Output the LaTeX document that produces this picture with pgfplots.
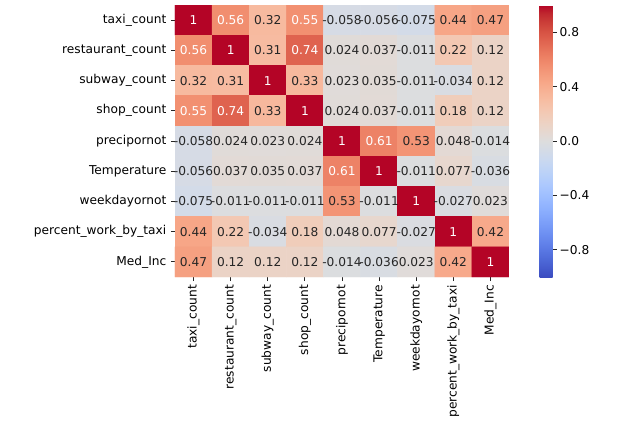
\documentclass[border=0pt]{standalone}
\usepackage{fontspec}
\setmainfont{DejaVu Sans}
\usepackage{pgfplots}
\usepackage{pgfplotstable}
\pgfplotsset{compat=1.18}
\definecolor{ann}{gray}{0.15}
\pgfplotstableread{
x y c
0 0 1
1 0 0.56
2 0 0.32
3 0 0.55
4 0 -0.058
5 0 -0.056
6 0 -0.075
7 0 0.44
8 0 0.47
0 1 0.56
1 1 1
2 1 0.31
3 1 0.74
4 1 0.024
5 1 0.037
6 1 -0.011
7 1 0.22
8 1 0.12
0 2 0.32
1 2 0.31
2 2 1
3 2 0.33
4 2 0.023
5 2 0.035
6 2 -0.011
7 2 -0.034
8 2 0.12
0 3 0.55
1 3 0.74
2 3 0.33
3 3 1
4 3 0.024
5 3 0.037
6 3 -0.011
7 3 0.18
8 3 0.12
0 4 -0.058
1 4 0.024
2 4 0.023
3 4 0.024
4 4 1
5 4 0.61
6 4 0.53
7 4 0.048
8 4 -0.014
0 5 -0.056
1 5 0.037
2 5 0.035
3 5 0.037
4 5 0.61
5 5 1
6 5 -0.011
7 5 0.077
8 5 -0.036
0 6 -0.075
1 6 -0.011
2 6 -0.011
3 6 -0.011
4 6 0.53
5 6 -0.011
6 6 1
7 6 -0.027
8 6 0.023
0 7 0.44
1 7 0.22
2 7 -0.034
3 7 0.18
4 7 0.048
5 7 0.077
6 7 -0.027
7 7 1
8 7 0.42
0 8 0.47
1 8 0.12
2 8 0.12
3 8 0.12
4 8 -0.014
5 8 -0.036
6 8 0.023
7 8 0.42
8 8 1
}\corr
\begin{document}
\begin{tikzpicture}
\path (-175pt,-149pt) rectangle (466pt,277pt);
\begin{axis}[
  at={(0,0)}, anchor=south west,
  scale only axis, width=334pt, height=272pt,
  xmin=-0.5, xmax=8.5, ymin=-0.5, ymax=8.5, y dir=reverse,
  axis line style={draw=none},
  xtick={0,...,8}, ytick={0,...,8},
  xticklabels={taxi\_count,restaurant\_count,subway\_count,shop\_count,precipornot,Temperature,weekdayornot,percent\_work\_by\_taxi,Med\_Inc},
  yticklabels={taxi\_count,restaurant\_count,subway\_count,shop\_count,precipornot,Temperature,weekdayornot,percent\_work\_by\_taxi,Med\_Inc},
  tick pos=left, tick align=outside, major tick length=4pt,
  tick style={color=black!85, line width=0.8pt},
  xticklabel style={rotate=90, anchor=east, font=\fontsize{12.2}{14}\selectfont, inner sep=4pt},
  yticklabel style={font=\fontsize{12.2}{14}\selectfont, inner sep=4.5pt},
  colormap={coolwarm}{
    rgb255=(59,76,192) rgb255=(68,90,204) rgb255=(77,104,215) rgb255=(87,117,225)
    rgb255=(98,130,234) rgb255=(108,142,241) rgb255=(119,154,247) rgb255=(130,165,251)
    rgb255=(141,176,254) rgb255=(152,185,255) rgb255=(163,194,255) rgb255=(174,201,253)
    rgb255=(184,208,249) rgb255=(194,213,244) rgb255=(204,217,238) rgb255=(213,219,230)
    rgb255=(221,221,221) rgb255=(229,216,209) rgb255=(236,211,197) rgb255=(241,204,185)
    rgb255=(245,196,173) rgb255=(247,187,160) rgb255=(247,177,148) rgb255=(247,166,135)
    rgb255=(244,154,123) rgb255=(241,141,111) rgb255=(236,127,99) rgb255=(229,112,88)
    rgb255=(222,96,77) rgb255=(213,80,66) rgb255=(203,62,56) rgb255=(192,40,47)
    rgb255=(180,4,38)},
  point meta min=-1, point meta max=1,
  colorbar,
  colorbar style={
    at={(parent axis.north east)}, anchor=north west, xshift=22pt,
    scale only axis, width=13pt, height=272pt,
    ymin=-1, ymax=1,
    ytick={-0.8,-0.4,0,0.4,0.8},
    yticklabels={−0.8,−0.4,0.0,0.4,0.8},
    axis line style={draw=none},
    tick align=outside, major tick length=4pt,
    tick style={color=black!85, line width=0.8pt},
    ytick pos=right, yticklabel pos=right,
    yticklabel style={font=\fontsize{12.2}{14}\selectfont, inner sep=3pt},
  },
]
\addplot[matrix plot*, mesh/cols=9, point meta=explicit] table[meta=c] {\corr};
\addplot[only marks, mark=none, nodes near coords, point meta=explicit symbolic,
  restrict expr to domain={\thisrow{c}}{0.54:2},
  every node near coord/.append style={anchor=center, text=white, font=\fontsize{12.2}{14}\selectfont, inner sep=0pt}]
  table[meta=c] {\corr};
\addplot[only marks, mark=none, nodes near coords, point meta=explicit symbolic,
  restrict expr to domain={\thisrow{c}}{-2:0.54},
  every node near coord/.append style={anchor=center, text=ann, font=\fontsize{12.2}{14}\selectfont, inner sep=0pt}]
  table[meta=c] {\corr};
\end{axis}
\end{tikzpicture}
\end{document}
